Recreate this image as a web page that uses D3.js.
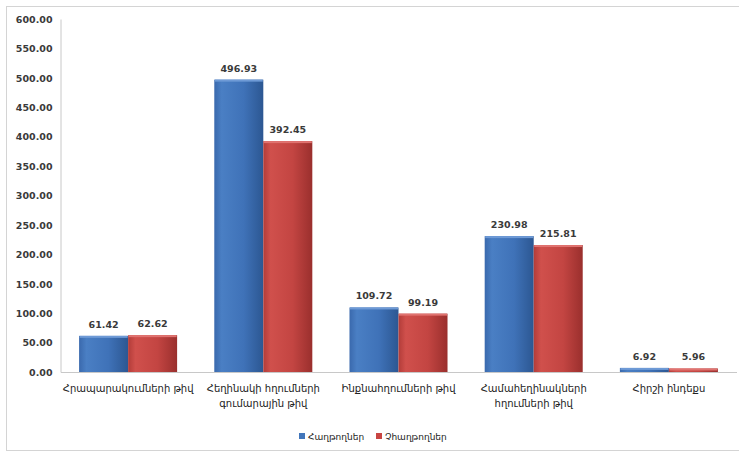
<!DOCTYPE html>
<html>
<head>
<meta charset="utf-8">
<script src="https://cdn.jsdelivr.net/npm/d3@7"></script>
<style>
  body { margin: 0; background: #fff; }
  svg { display: block; }
  .num { font-family: "DejaVu Sans", "Liberation Sans", sans-serif; font-weight: bold; font-size: 9.5px; fill: #3a3a3a; }
  .cat { font-family: "DejaVu Sans", "Noto Sans", sans-serif; font-size: 10px; fill: #222; }
  .leg { font-family: "DejaVu Sans", "Noto Sans", sans-serif; font-size: 9px; fill: #222; }
</style>
</head>
<body>
<svg id="chart" width="739" height="452"></svg>
<script>
// category labels (lines split with \n)
const categories = [
  "Հրապարակումների թիվ",
  "Հեղինակի հղումների\nգումարային թիվ",
  "Ինքնահղումների թիվ",
  "Համահեղինակների\nհղումների թիվ",
  "Հիրշի ինդեքս"
];
const seriesNames = ["Հաղթողներ", "Չհաղթողներ"];
const winners = [61.42, 496.93, 109.72, 230.98, 6.92];
const nonWinners = [62.62, 392.45, 99.19, 215.81, 5.96];
const yTicks = [0, 50, 100, 150, 200, 250, 300, 350, 400, 450, 500, 550, 600];

const svg = d3.select("#chart");
const margins = {top: 19, left: 60.5, right: 2.5, bottom: 80};
const width = 739, height = 452;

// outer frame
svg.append("rect")
  .attr("x", 6.5).attr("y", 6.5)
  .attr("width", 740).attr("height", 444)
  .attr("fill", "none").attr("stroke", "#d4d4d4");

const defs = svg.append("defs");
function grad(id, stops) {
  const g = defs.append("linearGradient").attr("id", id)
    .attr("x1", 0).attr("x2", 1).attr("y1", 0).attr("y2", 0);
  stops.forEach(s => g.append("stop").attr("offset", s[0]).attr("stop-color", s[1]));
}
grad("gBlue", [[0, "#3a69ad"], [0.15, "#4a7fc4"], [0.6, "#3f72b8"], [1, "#2c5792"]]);
grad("gRed", [[0, "#b23c39"], [0.15, "#d0504c"], [0.6, "#c34542"], [1, "#9a2f2d"]]);
const fills = ["url(#gBlue)", "url(#gRed)"];
const tops = ["#6e9ad6", "#e07370"];

const y = d3.scaleLinear().domain([0, 600]).range([372, margins.top]);
const x0 = d3.scaleBand().domain(d3.range(categories.length))
  .range([margins.left, width - margins.right])
  .paddingInner(0.275).paddingOuter(0.1375);
const x1 = d3.scaleBand().domain([0, 1]).range([0, x0.bandwidth()]);

// y axis
const yAxis = svg.append("g")
  .attr("transform", "translate(" + margins.left + ",0)")
  .call(d3.axisLeft(y).tickValues(yTicks).tickFormat(d3.format(".2f")).tickSize(0).tickPadding(8));
yAxis.select(".domain").attr("stroke", "#c8c8c8");
yAxis.selectAll("text").attr("class", "num").attr("dy", "0.35em");

// x axis line
const xAxis = svg.append("g")
  .attr("transform", "translate(0," + y(0) + ")")
  .call(d3.axisBottom(x0).tickSize(0).tickFormat(""));
xAxis.select(".domain").attr("stroke", "#c8c8c8");

const series = [winners, nonWinners];
const groups = svg.selectAll(".grp")
  .data(categories)
  .enter().append("g")
  .attr("class", "grp")
  .attr("transform", (d, i) => "translate(" + x0(i) + ",0)");

series.forEach((vals, s) => {
  groups.append("rect")
    .attr("x", x1(s))
    .attr("y", (d, i) => y(vals[i]))
    .attr("width", x1.bandwidth())
    .attr("height", (d, i) => y(0) - y(vals[i]))
    .attr("fill", fills[s]);
  groups.append("rect")
    .attr("x", x1(s) + 0.5)
    .attr("y", (d, i) => y(vals[i]))
    .attr("width", x1.bandwidth() - 1)
    .attr("height", (d, i) => Math.min(2, y(0) - y(vals[i])))
    .attr("fill", tops[s]);
  groups.append("text")
    .attr("class", "num")
    .attr("text-anchor", "middle")
    .attr("x", x1(s) + x1.bandwidth() / 2)
    .attr("y", (d, i) => y(vals[i]) - 8)
    .text((d, i) => vals[i].toFixed(2));
});

// category labels
groups.append("text")
  .attr("class", "cat")
  .attr("text-anchor", "middle")
  .attr("y", 392)
  .each(function(d) {
    const t = d3.select(this);
    d.split("\n").forEach((line, k) => {
      t.append("tspan").attr("x", x0.bandwidth() / 2).attr("dy", k ? 15 : 0).text(line);
    });
  });

// legend
const legX = [299, 376];
const legend = svg.selectAll(".lg").data(seriesNames).enter().append("g")
  .attr("class", "lg")
  .attr("transform", (d, i) => "translate(" + legX[i] + ",437)");
legend.append("rect").attr("x", 0).attr("y", -4).attr("width", 6).attr("height", 6)
  .attr("fill", (d, i) => i ? "#c84542" : "#4276bb");
legend.append("text").attr("class", "leg").attr("x", 9).attr("y", 3).text(d => d);
</script>
</body>
</html>
